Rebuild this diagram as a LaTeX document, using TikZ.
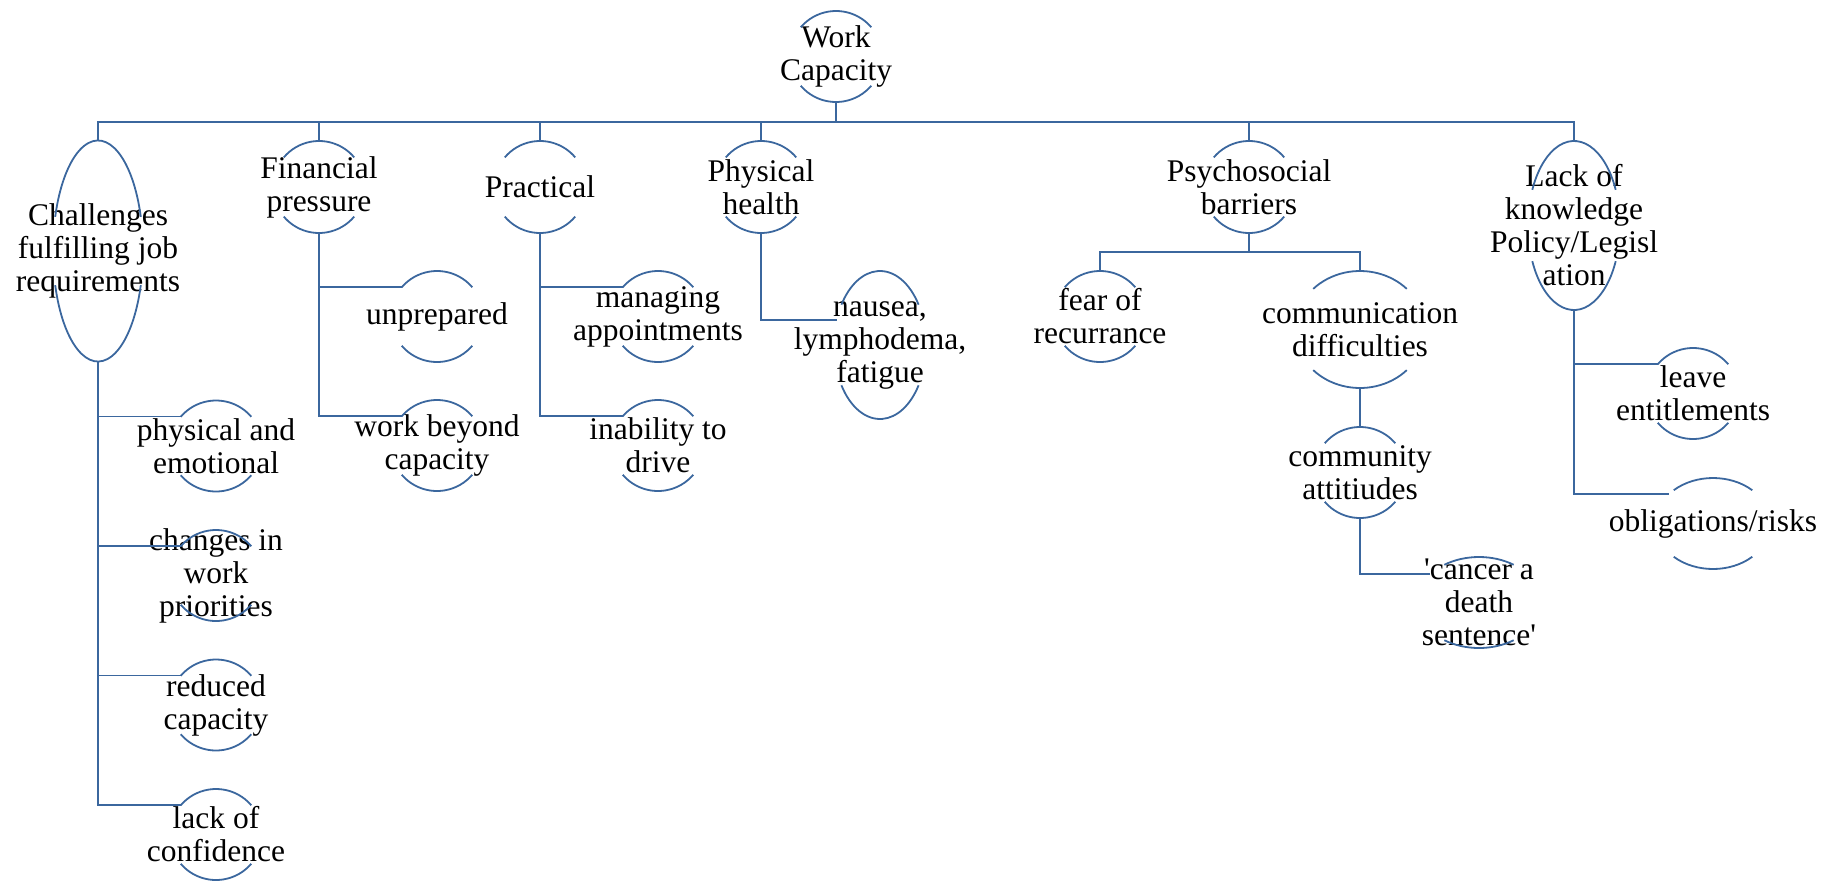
\documentclass[tikz,border=0pt]{standalone}
\usepackage{fontspec}
\setmainfont{Liberation Serif}
\usetikzlibrary{shapes.geometric}
\definecolor{capblue}{RGB}{59,103,158}
\tikzset{
  capline/.style={draw=capblue, line width=1.8pt},
  capshape/.style={ellipse, draw=none, inner sep=0pt, outer sep=0pt},
  captext/.style={align=center, inner sep=0pt, font=\rmfamily\fontsize{31.5}{33}\selectfont},
}
% node drawn as an arc above and an arc below its text
\newcommand{\capnode}[6]{%
  \node[capshape, minimum width=2*#3pt, minimum height=2*#4pt] (#1) at (#2) {};
  \node[captext] (#1-text) at (#1.center) {#6};
  \draw[capline] (#1.center) ++(#5:#3pt and #4pt) arc[start angle=#5, end angle=180-#5, x radius=#3pt, y radius=#4pt];
  \draw[capline] (#1.center) ++(180+#5:#3pt and #4pt) arc[start angle=180+#5, end angle=360-#5, x radius=#3pt, y radius=#4pt];
}

\begin{document}
\begin{tikzpicture}[x=1pt, y=1pt]
  \useasboundingbox (0,0) rectangle (1833,-881);
  % Define circle dimensions
  \def\capr{46}
  \def\capt{40}

  % Root and first level
  \capnode{wc}{836,-56.5}{\capr}{45.5}{\capt}{Work\\Capacity}
  \coordinate (bus) at (836,-122);
  \draw[capline] (wc.south) -- (bus);

  \capnode{chal}{98,-251}{45}{110.5}{18}{Challenges\\fulfilling job\\requirements}
  \capnode{fin}{319,-187}{\capr}{\capr}{\capt}{Financial\\pressure}
  \capnode{prac}{540,-187}{\capr}{\capr}{\capt}{Practical}
  \capnode{phys}{761,-187}{\capr}{\capr}{\capt}{Physical\\health}
  \capnode{psy}{1249,-187}{\capr}{\capr}{\capt}{Psychosocial\\barriers}
  \capnode{lack}{1574,-225.5}{46}{84.5}{25}{Lack of\\knowledge\\Policy/Legisl\\ation}
  \foreach \top in {chal,fin,prac,phys,psy,lack} {
    \draw[capline] (bus) -| (\top.north);
  }

  % Challenges fulfilling job requirements
  \foreach \nm/\yy/\txt in {pe/446/{physical and\\emotional}, prio/575.5/{changes in\\work\\priorities},
                            red/705/{reduced\\capacity}, conf/834.5/{lack of\\confidence}} {
    \capnode{\nm}{216,-\yy}{\capr}{45.5}{\capt}{\txt}
    \draw[capline] (chal.south) |- (\nm.140);
  }

  % Financial pressure
  \capnode{unprep}{437,-316.5}{\capr}{45.5}{\capt}{unprepared}
  \capnode{beyond}{437,-445.5}{\capr}{45.5}{\capt}{work beyond\\capacity}
  \draw[capline] (fin.south) |- (unprep.140);
  \draw[capline] (fin.south) |- (beyond.140);

  % Practical
  \capnode{appt}{658,-316.5}{\capr}{45.5}{\capt}{managing\\appointments}
  \capnode{drive}{658,-445.5}{\capr}{45.5}{\capt}{inability to\\drive}
  \draw[capline] (prac.south) |- (appt.140);
  \draw[capline] (prac.south) |- (drive.140);

  % Physical health
  \capnode{naus}{880,-345}{46}{74}{33}{nausea,\\lymphodema,\\fatigue}
  \draw[capline] (phys.south) |- (naus.150);

  % Psychosocial barriers
  \capnode{fear}{1100,-316.5}{\capr}{45.5}{\capt}{fear of\\recurrance}
  \capnode{comm}{1360,-329.5}{65}{58.5}{44}{communication\\difficulties}
  \coordinate (psybus) at (1249,-252);
  \draw[capline] (psy.south) -- (psybus);
  \draw[capline] (psybus) -| (fear.north);
  \draw[capline] (psybus) -| (comm.north);
  \capnode{attd}{1360,-472.5}{\capr}{45.5}{\capt}{community\\attitiudes}
  \draw[capline] (comm.south) -- (attd.north);
  \capnode{death}{1479,-602.5}{62}{45.5}{56}{\textquotesingle cancer a\\death\\sentence\textquotesingle}
  \draw[capline] (attd.south) |- (death.150);

  % Lack of knowledge
  \capnode{leave}{1693,-393.5}{\capr}{45.5}{\capt}{leave\\entitlements}
  \capnode{oblig}{1713,-523.5}{57.6}{45.5}{47}{obligations/risks}
  \draw[capline] (lack.south) |- (leave.140);
  \draw[capline] (lack.south) |- (oblig.146);
\end{tikzpicture}
\end{document}
